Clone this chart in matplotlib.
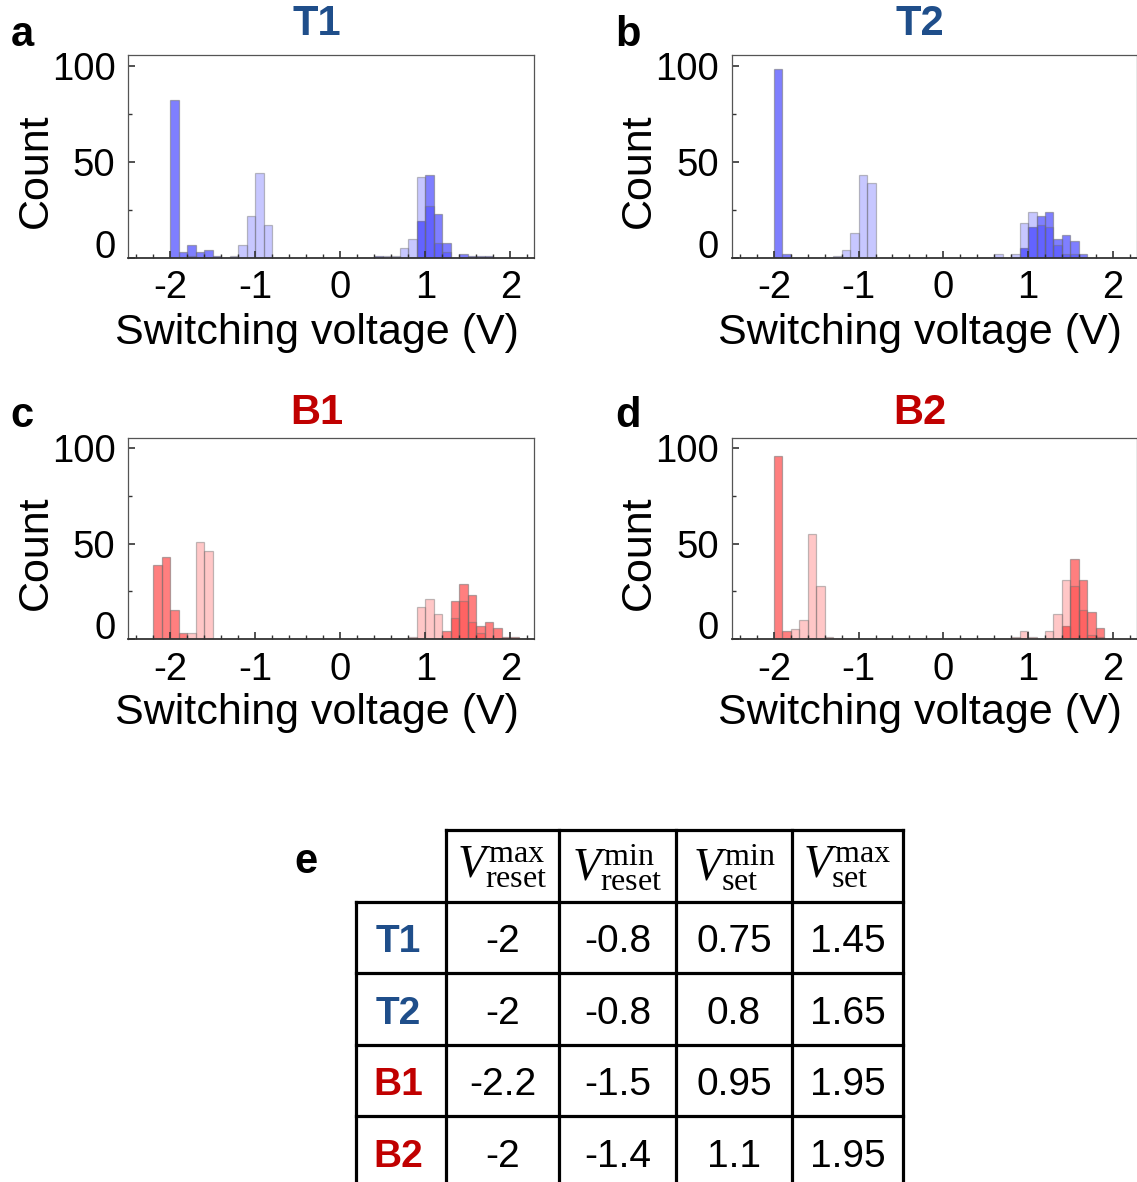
import numpy as np
import matplotlib.pyplot as plt
from matplotlib.ticker import MultipleLocator

plt.rcParams['font.family'] = ['Liberation Sans', 'DejaVu Sans']
plt.rcParams['axes.unicode_minus'] = False
plt.rcParams['mathtext.fontset'] = 'custom'
plt.rcParams['mathtext.rm'] = 'Liberation Serif'
plt.rcParams['mathtext.it'] = 'Liberation Serif:italic'

# === histogram data (bin left edge, count), bin width 0.1 V ===
BIN_W = 0.1

t1_dark_bins = [-2.0, -1.9, -1.8, -1.7, -1.6, -1.5, 0.4, 0.9, 1.0, 1.1, 1.2, 1.4, 1.5, 1.6, 1.7]
t1_dark_counts = [82, 3, 7, 3, 4, 1, 1, 19, 43, 23, 8, 2, 1, 1, 1]
t1_light_bins = [-1.8, -1.3, -1.2, -1.1, -1.0, -0.9, 0.5, 0.6, 0.7, 0.8, 0.9, 1.0, 1.1, 1.2]
t1_light_counts = [1, 1, 7, 22, 44, 17, 1, 1, 5, 10, 42, 27, 8, 3]

t2_dark_bins = [-2.0, -1.9, 0.9, 1.0, 1.1, 1.2, 1.3, 1.4, 1.5, 1.6]
t2_dark_counts = [98, 2, 5, 16, 22, 24, 10, 12, 9, 2]
t2_light_bins = [-1.3, -1.2, -1.1, -1.0, -0.9, 0.6, 0.8, 0.9, 1.0, 1.1, 1.2, 1.3, 1.4, 1.5]
t2_light_counts = [1, 4, 13, 43, 39, 2, 2, 18, 24, 17, 16, 7, 2, 2]

b1_dark_bins = [-2.2, -2.1, -2.0, -1.9, 1.2, 1.3, 1.4, 1.5, 1.6, 1.7, 1.8, 1.9, 2.0]
b1_dark_counts = [39, 43, 15, 3, 4, 20, 29, 23, 7, 9, 6, 1, 1]
b1_light_bins = [-1.8, -1.7, -1.6, 0.8, 0.9, 1.0, 1.1, 1.3, 1.4, 1.5, 1.6]
b1_light_counts = [3, 51, 46, 1, 17, 21, 13, 11, 20, 9, 3]

b2_dark_bins = [-2.0, -1.9, 1.4, 1.5, 1.6, 1.7, 1.8]
b2_dark_counts = [96, 4, 7, 42, 31, 14, 6]
b2_light_bins = [-1.8, -1.7, -1.6, -1.5, -1.4, 0.8, 0.9, 1.0, 1.2, 1.3, 1.4, 1.5, 1.6, 1.7, 1.8]
b2_light_counts = [5, 10, 55, 28, 1, 1, 4, 1, 4, 13, 31, 28, 15, 2, 1]

# === table data ===
row_names = ['T1', 'T2', 'B1', 'B2']
col_names = [r'$V^{\rm max}_{\rm reset}$', r'$V^{\rm min}_{\rm reset}$',
             r'$V^{\rm min}_{\rm set}$', r'$V^{\rm max}_{\rm set}$']
table_vals = [['-2', '-0.8', '0.75', '1.45'],
              ['-2', '-0.8', '0.8', '1.65'],
              ['-2.2', '-1.5', '0.95', '1.95'],
              ['-2', '-1.4', '1.1', '1.95']]

BLUE_TXT = '#1f4e8a'
RED_TXT = '#c00000'
row_colors = [BLUE_TXT, BLUE_TXT, RED_TXT, RED_TXT]

W, H = 1137, 1182
fig = plt.figure(figsize=(W / 100, H / 100), dpi=100)


def px_axes(left, top, width, height):
    return fig.add_axes([left / W, 1 - (top + height) / H, width / W, height / H])


def histo(ax, dark_b, dark_c, light_b, light_c, rgb, title, title_color, title_y):
    ax.bar(dark_b, dark_c, width=BIN_W, align='edge', color=rgb + (0.5,),
           edgecolor=(0.45, 0.45, 0.45, 0.55), linewidth=0.9)
    ax.bar(light_b, light_c, width=BIN_W, align='edge', color=rgb + (0.22,),
           edgecolor=(0.45, 0.45, 0.45, 0.45), linewidth=0.9)
    ax.set_xlim(-2.5, 2.28)
    ax.set_ylim(0, 105.5)
    ax.set_xticks([-2, -1, 0, 1, 2])
    ax.xaxis.set_minor_locator(MultipleLocator(0.2))
    ax.set_yticks([0, 50, 100])
    ax.yaxis.set_minor_locator(MultipleLocator(25))
    ax.tick_params(which='both', direction='in', labelsize=27.5, color='#333333')
    ax.tick_params(which='major', length=5, width=1.2)
    ax.tick_params(which='minor', length=3, width=1.0)
    ax.tick_params(axis='x', pad=9)
    ax.tick_params(axis='y', pad=9)
    for lab in ax.get_yticklabels():
        if lab.get_text() == '0':
            lab.set_va('baseline')
    for s in ['top', 'right', 'left']:
        ax.spines[s].set_color('#555555')
        ax.spines[s].set_linewidth(0.9)
    ax.spines['bottom'].set_color('#333333')
    ax.spines['bottom'].set_linewidth(1.3)
    ax.set_xlabel('Switching voltage (V)', fontsize=31)
    ax.xaxis.set_label_coords(0.466, -0.27)
    ax.set_ylabel('Count', fontsize=31, va='center')
    ax.yaxis.set_label_coords(-0.228, 0.43)
    ax.text(0.466, title_y, title, transform=ax.transAxes, ha='center', va='center',
            fontsize=30, fontweight='bold', color=title_color)


ax_a = px_axes(128, 55, 406, 203)
ax_b = px_axes(731.5, 55, 405, 203)
ax_c = px_axes(128, 438, 406, 201)
ax_d = px_axes(731.5, 438, 405, 201)

histo(ax_a, t1_dark_bins, t1_dark_counts, t1_light_bins, t1_light_counts, (0.0, 0.0, 1.0), 'T1', BLUE_TXT, 1.155)
histo(ax_b, t2_dark_bins, t2_dark_counts, t2_light_bins, t2_light_counts, (0.0, 0.0, 1.0), 'T2', BLUE_TXT, 1.155)
histo(ax_c, b1_dark_bins, b1_dark_counts, b1_light_bins, b1_light_counts, (1.0, 0.0, 0.0), 'B1', RED_TXT, 1.125)
histo(ax_d, b2_dark_bins, b2_dark_counts, b2_light_bins, b2_light_counts, (1.0, 0.0, 0.0), 'B2', RED_TXT, 1.125)

for lab, x, y in [('a', 22, 35), ('b', 628, 35), ('c', 22, 416), ('d', 628, 416), ('e', 306, 862)]:
    fig.text(x / W, 1 - y / H, lab, ha='center', va='center', fontsize=30, fontweight='bold')

# === table e ===
tab = fig.add_axes([0, 0, 1, 1], zorder=-1)
tab.set_xlim(0, W)
tab.set_ylim(H, 0)
tab.axis('off')

x0, y0 = 356, 830
col_w = [90, 113, 117, 116, 111]
row_h = 71.5
xe = x0 + np.concatenate([[0], np.cumsum(col_w)])
n_rows = len(row_names) + 1
ye = y0 + row_h * np.arange(n_rows + 1)
lw = 2.3

tab.plot([xe[1], xe[-1]], [ye[0], ye[0]], color='black', lw=lw, solid_capstyle='projecting')
for yy in ye[1:]:
    tab.plot([xe[0], xe[-1]], [yy, yy], color='black', lw=lw, solid_capstyle='projecting')
tab.plot([xe[0], xe[0]], [ye[1], ye[-1]], color='black', lw=lw)
for xx in xe[1:]:
    tab.plot([xx, xx], [ye[0], ye[-1]], color='black', lw=lw, solid_capstyle='projecting')

xc = (xe[:-1] + xe[1:]) / 2
yc = (ye[:-1] + ye[1:]) / 2
for j, name in enumerate(col_names):
    tab.text(xc[j + 1], yc[0] + 2, name, ha='center', va='center', fontsize=33)
for i, name in enumerate(row_names):
    tab.text(xc[0] - 3, yc[i + 1] + 5, name, ha='center', va='center', fontsize=28,
             fontweight='bold', color=row_colors[i])
    for j, val in enumerate(table_vals[i]):
        tab.text(xc[j + 1], yc[i + 1] + 5, val, ha='center', va='center', fontsize=28)

fig.savefig('out.png', dpi=100)
